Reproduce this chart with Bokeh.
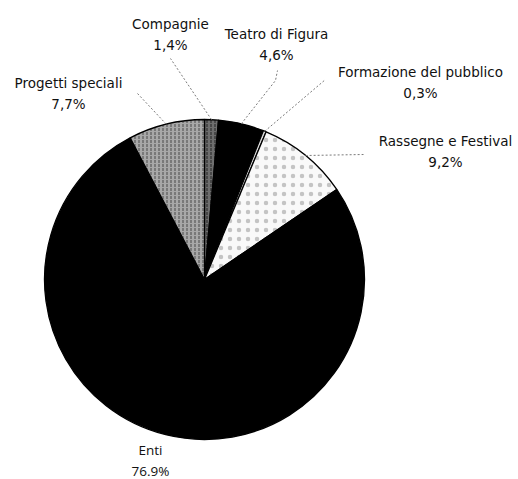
import math
from bokeh.plotting import figure
from bokeh.models import Range1d, ColumnDataSource
from bokeh.core.properties import value
from bokeh.embed import file_html
from bokeh.resources import INLINE

# ---- data ----
categories = ["Compagnie", "Teatro di Figura", "Formazione del pubblico",
              "Rassegne e Festival", "Enti", "Progetti speciali"]
percent = [1.4, 4.6, 0.3, 9.2, 76.9, 7.7]
pct_labels = ["1,4%", "4,6%", "0,3%", "9,2%", "76.9%", "7,7%"]

# ---- styles / layout ----
fills = ["#6e6e6e", "#000000", "#d9d9d9", "#f9f9f9", "#000000", "#a8a8a8"]
hatches = [":", " ", " ", ".", " ", ":"]
hatch_cols = ["#222222", "#000000", "#000000", "#c4c4c4", "#000000", "#4a4a4a"]
hatch_scales = [4, 4, 4, 9, 4, 4]

W, H = 518, 479
def px(x): return x
def py(y): return H - y

CX, CY, R = px(204), py(279), 160

label_pos = {
    "Compagnie": (170, 23),
    "Teatro di Figura": (276, 33),
    "Formazione del pubblico": (420, 71),
    "Rassegne e Festival": (445, 140),
    "Enti": (150, 449),
    "Progetti speciali": (68, 82),
}
leader_end = {
    "Compagnie": [(170, 58)],
    "Teatro di Figura": [(277, 70), (275, 80)],
    "Formazione del pubblico": [(325, 79)],
    "Rassegne e Festival": [(363, 154)],
    "Progetti speciali": [(137, 93)],
}

p = figure(width=W, height=H, output_backend="svg", toolbar_location=None,
           x_range=Range1d(0, W), y_range=Range1d(0, H), min_border=0)
p.axis.visible = False
p.grid.visible = False
p.outline_line_color = None
p.background_fill_color = "white"

starts, ends, mids = [], [], []
cum = 0.0
tot = sum(percent)
for v in percent:
    a0 = math.radians(90 - cum / tot * 360)
    cum += v
    a1 = math.radians(90 - cum / tot * 360)
    starts.append(a1)
    ends.append(a0)
    mids.append((a0 + a1) / 2)

src = ColumnDataSource(dict(cat=categories, s=starts, e=ends, fill=fills,
                            hatch=hatches, hc=hatch_cols, hs=hatch_scales))
p.wedge(x=CX, y=CY, radius=R, start_angle="s", end_angle="e", source=src,
        fill_color="fill", line_color="black", line_width=1.3,
        hatch_pattern="hatch", hatch_color="hc", hatch_scale="hs", hatch_weight=1)

for cat, m in zip(categories, mids):
    if cat not in leader_end:
        continue
    xs = [CX + R * math.cos(m)]
    ys = [CY + R * math.sin(m)]
    for (ix, iy) in reversed(leader_end[cat]):
        xs.append(px(ix)); ys.append(py(iy))
    p.line(xs, ys, line_color="#7a7a7a", line_width=1, line_dash="2 2")

for cat, lab in zip(categories, pct_labels):
    ix, iy = label_pos[cat]
    font = "Open Sans" if cat == "Enti" else "DejaVu Sans"
    p.text([px(ix)], [py(iy)], text=[cat], text_align="center",
           text_baseline="middle", text_font=value(font),
           text_font_size="13.5px", text_color="#111111")
    p.text([px(ix)], [py(iy + 21)], text=[lab], text_align="center",
           text_baseline="middle", text_font=value(font),
           text_font_size="13.5px", text_color="#111111")

open("out.html", "w").write(file_html(p, INLINE))
